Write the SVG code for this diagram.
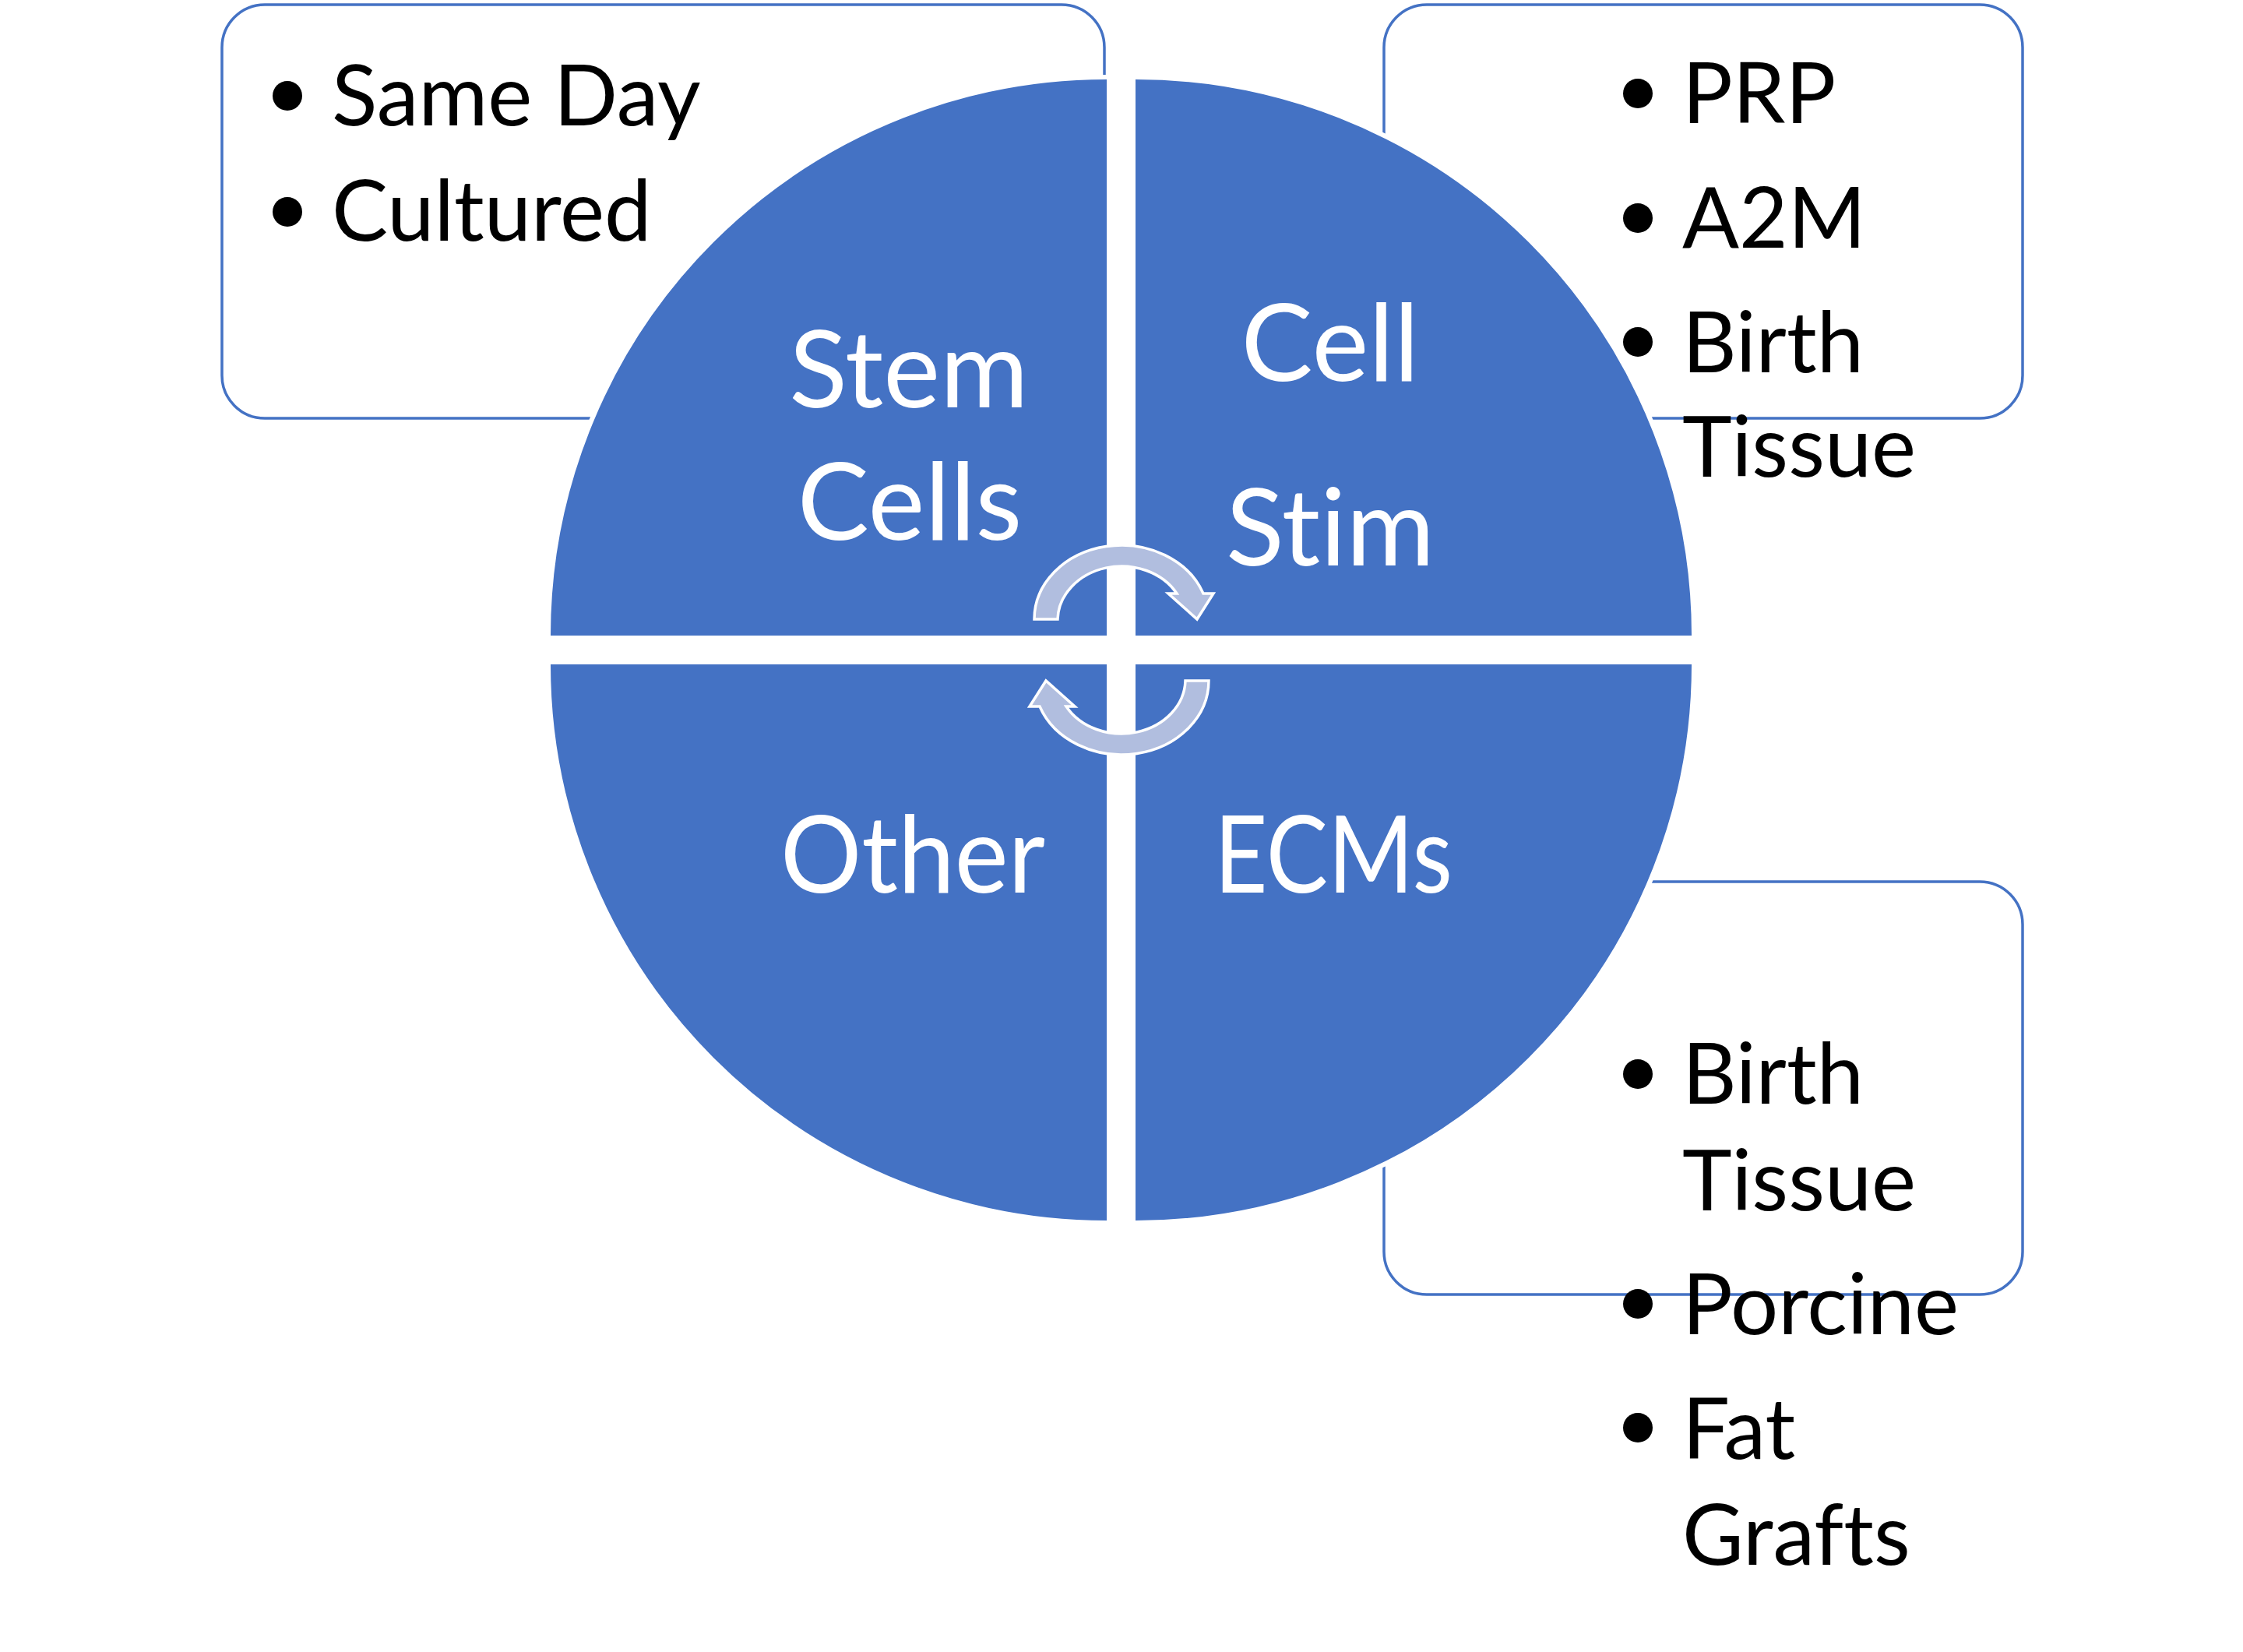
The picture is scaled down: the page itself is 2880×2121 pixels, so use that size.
<svg xmlns="http://www.w3.org/2000/svg" width="2880" height="2121" viewBox="0 0 2880 2121">
<style>
.box{fill:#FFFFFF;stroke:#4472C4;stroke-width:3.5}
.quad{fill:#4472C4;stroke:#FFFFFF;stroke-width:6}
.arrow{fill:#B1BEDF;stroke:#FFFFFF;stroke-width:3.5;stroke-linejoin:miter}
text{font-variant-ligatures:none;font-feature-settings:"liga" 0,"clig" 0,"dlig" 0}
.lbl{font-family:Lato,"Liberation Sans",sans-serif;font-size:138px;fill:#FFFFFF;text-anchor:middle}
.bt{font-family:Lato,"Liberation Sans",sans-serif;font-size:108px;fill:#000000}
.dot{fill:#000000}
</style>
<rect width="2880" height="2121" fill="#FFFFFF"/>
<g id="box-stemcells"><rect class="box" x="285" y="6" width="1133" height="531" rx="55"/></g>
<g id="box-cellstim"><rect class="box" x="1777" y="6" width="820" height="531" rx="55"/></g>
<g id="box-ecms"><rect class="box" x="1777" y="1132" width="820" height="530" rx="55"/></g>
<g id="quad-stemcells"><path class="quad" d="M1424 819 L704 819 A717 717 0 0 1 1424 99 Z"/></g>
<g id="quad-cellstim"><path class="quad" d="M1455 819 L1455 99 A717 717 0 0 1 2175 819 Z"/></g>
<g id="quad-other"><path class="quad" d="M1424 850 L1424 1570 A717 717 0 0 1 704 850 Z"/></g>
<g id="quad-ecms"><path class="quad" d="M1455 850 L2175 850 A717 717 0 0 1 1455 1570 Z"/></g>
<g id="connectors">
<path id="arrow-top" class="arrow" d="M1328 795 A112 95 0 0 1 1545 762 L1558 762 L1537 795 L1500 762 L1511 762 A82 70 0 0 0 1358 795 Z"/>
<path id="arrow-bottom" class="arrow" transform="rotate(180 1440 834.5)" d="M1328 795 A112 95 0 0 1 1545 762 L1558 762 L1537 795 L1500 762 L1511 762 A82 70 0 0 0 1358 795 Z"/>
</g>
<g id="label-stemcells"><text class="lbl" x="1167" y="523">Stem</text><text class="lbl" x="1168" y="693">Cells</text></g>
<g id="label-cellstim"><text class="lbl" x="1708" y="489">Cell</text><text class="lbl" x="1708" y="726">Stim</text></g>
<g id="label-other"><text class="lbl" x="1172" y="1146" textLength="340" lengthAdjust="spacingAndGlyphs">Other</text></g>
<g id="label-ecms"><text class="lbl" x="1712" y="1146" textLength="306" lengthAdjust="spacingAndGlyphs">ECMs</text></g>
<g id="text-stemcells">
<circle class="dot" cx="369" cy="123" r="19"/><text class="bt" x="426" y="161">Same Day</text>
<circle class="dot" cx="369" cy="272" r="19"/><text class="bt" x="426" y="309">Cultured</text>
</g>
<g id="text-cellstim">
<circle class="dot" cx="2103" cy="120" r="19"/><text class="bt" x="2160" y="158">PRP</text>
<circle class="dot" cx="2103" cy="280" r="19"/><text class="bt" x="2160" y="318">A2M</text>
<circle class="dot" cx="2103" cy="439" r="19"/><text class="bt" x="2160" y="478">Birth</text>
<text class="bt" x="2160" y="612">Tissue</text>
</g>
<g id="text-ecms">
<circle class="dot" cx="2103" cy="1379" r="19"/><text class="bt" x="2160" y="1417">Birth</text>
<text class="bt" x="2160" y="1554">Tissue</text>
<circle class="dot" cx="2103" cy="1674" r="19"/><text class="bt" x="2160" y="1713">Porcine</text>
<circle class="dot" cx="2103" cy="1833" r="19"/><text class="bt" x="2160" y="1873">Fat</text>
<text class="bt" x="2160" y="2009">Grafts</text>
</g>
</svg>
